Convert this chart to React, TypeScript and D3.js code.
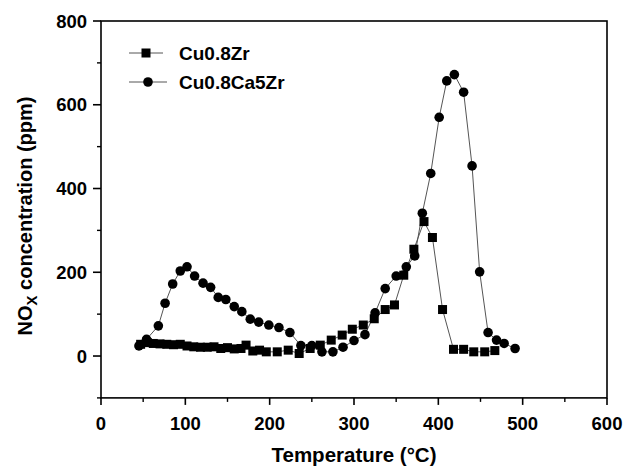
import React from "react";
import * as d3 from "d3";

const zrT = [47, 55, 62, 70, 78, 86, 94, 102, 110, 118, 126, 134, 142, 150, 158, 166, 172, 180, 188, 196, 209, 222, 235, 248, 260, 273, 286, 298, 311, 324, 337, 348, 359, 371, 383, 393, 405, 418, 430, 442, 455, 467];
const zrC = [28, 32, 30, 29, 28, 27, 28, 24, 22, 21, 21, 22, 18, 20, 17, 18, 26, 12, 14, 10, 10, 14, 6, 18, 26, 38, 50, 64, 74, 89, 111, 122, 193, 255, 321, 283, 111, 16, 16, 10, 10, 13];

const caT = [45, 54, 68, 76, 85, 94, 102, 111, 121, 130, 139, 148, 158, 167, 177, 187, 199, 211, 224, 237, 250, 262, 275, 287, 300, 313, 325, 337, 350, 362, 372, 381, 391, 401, 410, 419, 430, 440, 449, 459, 469, 478, 491];
const caC = [24, 40, 72, 126, 172, 203, 213, 191, 174, 164, 140, 135, 118, 106, 88, 81, 74, 68, 56, 25, 25, 10, 10, 21, 37, 51, 103, 161, 191, 213, 239, 341, 436, 570, 657, 672, 630, 454, 201, 56, 38, 30, 18];

const xMajor = [0, 100, 200, 300, 400, 500, 600];
const xMinor = [50, 150, 250, 350, 450, 550];
const yMajor = [0, 200, 400, 600, 800];
const yMinor = [-100, 100, 300, 500, 700];

const seriesNames = ["Cu0.8Zr", "Cu0.8Ca5Zr"];

const FONT = "'Liberation Sans', Arial, Helvetica, sans-serif";

export default function App() {
  const W = 625, H = 467;
  const x = d3.scaleLinear().domain([0, 600]).range([101, 607]);
  const y = d3.scaleLinear().domain([-100, 800]).range([397.9, 21]);
  const line = d3.line<[number, number]>().x(d => x(d[0])).y(d => y(d[1]));
  const zr: [number, number][] = zrT.map((t, i) => [t, zrC[i]]);
  const ca: [number, number][] = caT.map((t, i) => [t, caC[i]]);
  const x0 = x(0), x1 = x(600), yB = y(-100), yT = y(800);
  const sq = 9;
  const r = 4.8;
  const lineColor = "#555";

  return (
    <svg width={W} height={H} style={{ position: "absolute", left: 0, top: 0, background: "#fff" }} fontFamily={FONT}>
      <rect x={0} y={0} width={W} height={H} fill="#fff" />
      <path d={line(zr) || ""} fill="none" stroke={lineColor} strokeWidth={1} />
      <path d={line(ca) || ""} fill="none" stroke={lineColor} strokeWidth={1} />
      {zr.map((d, i) => (
        <rect key={"s" + i} x={x(d[0]) - sq / 2} y={y(d[1]) - sq / 2} width={sq} height={sq} fill="#000" />
      ))}
      {ca.map((d, i) => (
        <circle key={"c" + i} cx={x(d[0])} cy={y(d[1])} r={r} fill="#000" />
      ))}
      <rect x={x0} y={yT} width={x1 - x0} height={yB - yT} fill="none" stroke="#000" strokeWidth={1.6} />
      {xMajor.map(v => (
        <g key={"xm" + v}>
          <line x1={x(v)} x2={x(v)} y1={yB} y2={yB + 7} stroke="#000" strokeWidth={1.6} />
          <text x={x(v)} y={430} textAnchor="middle" fontSize={18.5} fontWeight="bold">{v}</text>
        </g>
      ))}
      {xMinor.map(v => (
        <line key={"xn" + v} x1={x(v)} x2={x(v)} y1={yB} y2={yB + 4} stroke="#000" strokeWidth={1.4} />
      ))}
      {yMajor.map(v => (
        <g key={"ym" + v}>
          <line x1={x0 - 8} x2={x0} y1={y(v)} y2={y(v)} stroke="#000" strokeWidth={1.6} />
          <text x={87} y={y(v)} dy="0.36em" textAnchor="end" fontSize={18.5} fontWeight="bold">{v}</text>
        </g>
      ))}
      {yMinor.map(v => (
        <line key={"yn" + v} x1={x0 - 4} x2={x0} y1={y(v)} y2={y(v)} stroke="#000" strokeWidth={1.4} />
      ))}
      <text x={(x0 + x1) / 2} y={462} textAnchor="middle" fontSize={20.5} fontWeight="bold">Temperature (°C)</text>
      <text transform="translate(32,216) rotate(-90)" textAnchor="middle" fontSize={20} fontWeight="bold">
        NO<tspan fontSize={15} dy={5}>X</tspan><tspan dy={-5}> concentration (ppm)</tspan>
      </text>
      <g>
        <line x1={129} x2={163} y1={53} y2={53} stroke={lineColor} strokeWidth={1} />
        <rect x={146 - sq / 2} y={53 - sq / 2} width={sq} height={sq} fill="#000" />
        <text x={179} y={53} dy="0.36em" fontSize={19} fontWeight="bold">{seriesNames[0]}</text>
        <line x1={129} x2={167} y1={82} y2={82} stroke={lineColor} strokeWidth={1} />
        <circle cx={148} cy={82} r={r} fill="#000" />
        <text x={179} y={82} dy="0.36em" fontSize={19} fontWeight="bold">{seriesNames[1]}</text>
      </g>
    </svg>
  );
}
